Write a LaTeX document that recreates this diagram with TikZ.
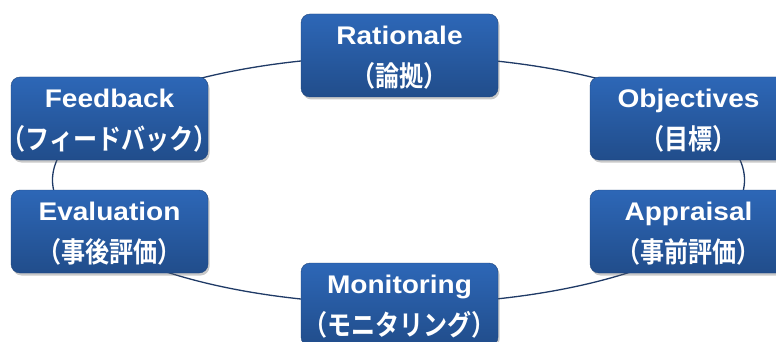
\documentclass[tikz,border=0pt]{standalone}
\usepackage{fontspec}
\setmainfont{Liberation Sans}
\newfontfamily\enfont[FakeStretch=1.1]{Liberation Sans Bold}
\newfontfamily\jpfont[FakeStretch=0.86]{Noto Sans CJK JP Bold}
\usetikzlibrary{shadows}
\definecolor{boxtop}{HTML}{2D67B7}
\definecolor{boxbot}{HTML}{214D8B}
\definecolor{ringcol}{HTML}{1F3A66}
\tikzset{
  stagebox/.style={rectangle, rounded corners=9pt, minimum width=197pt, minimum height=83pt,
    top color=boxtop, bottom color=boxbot, draw=boxbot!90!black, line width=0.4pt,
    drop shadow={shadow xshift=1.5pt, shadow yshift=-2.5pt, opacity=0.35, fill=black!60}},
  entext/.style={anchor=base, text=white, inner sep=0pt, font=\enfont\fontsize{25.5pt}{26pt}\selectfont},
  jptext/.style={anchor=base, text=white, inner sep=0pt, font=\jpfont\fontsize{28pt}{29pt}\selectfont},
  ring/.style={draw=ringcol, line width=1.3pt}
}
\begin{document}
\begin{tikzpicture}[x=1pt,y=-1pt]
\useasboundingbox (0,0) rectangle (776,342);
\fill[white] (0,0) rectangle (776,342);
\coordinate (c) at (398.5,180);
\draw[ring] (c) ellipse [x radius=346, y radius=124];
\node[stagebox] (rat) at (399.5,55.5) {};
\node[stagebox] (fb) at (109.5,118.5) {};
\node[stagebox] (obj) at (688.5,118.5) {};
\node[stagebox] (ev) at (109.5,231.5) {};
\node[stagebox] (app) at (688.5,231.5) {};
\node[stagebox] (mon) at (399.5,304.5) {};
\foreach \n/\e/\j in {rat/Rationale/（論拠）, fb/Feedback/（フィードバック）, obj/Objectives/（目標）,
  ev/Evaluation/（事後評価）, app/Appraisal/（事前評価）, mon/Monitoring/（モニタリング）}{
  \node[entext] (\n-en) at ([yshift=-31pt]\n.north) {\e};
  \node[jptext] (\n-jp) at ([yshift=-73pt]\n.north) {\j};
}
\end{tikzpicture}
\end{document}
